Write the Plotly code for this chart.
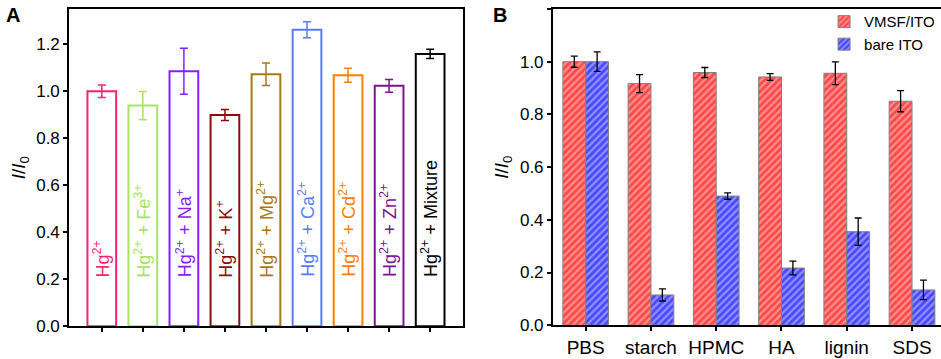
import plotly.graph_objects as go

# ---------------- Panel A data ----------------
a_names = ["Hg", "Fe", "Na", "K", "Mg", "Ca", "Cd", "Zn", "Mix"]
a_labels = ["Hg<sup>2+</sup>", "Hg<sup>2+</sup> + Fe<sup>3+</sup>", "Hg<sup>2+</sup> + Na<sup>+</sup>",
            "Hg<sup>2+</sup> + K<sup>+</sup>", "Hg<sup>2+</sup> + Mg<sup>2+</sup>", "Hg<sup>2+</sup> + Ca<sup>2+</sup>",
            "Hg<sup>2+</sup> + Cd<sup>2+</sup>", "Hg<sup>2+</sup> + Zn<sup>2+</sup>", "Hg<sup>2+</sup> + Mixture"]
a_values = [1.000, 0.939, 1.085, 0.899, 1.072, 1.262, 1.068, 1.023, 1.159]
a_errors = [0.027, 0.060, 0.098, 0.023, 0.048, 0.034, 0.030, 0.027, 0.020]
a_colors = ["#FF1F78", "#A8E462", "#8A1CFF", "#8E0B0B", "#A8790F", "#5B7BFF", "#FF8000", "#7A1490", "#000000"]

# ---------------- Panel B data ----------------
b_categories = ["PBS", "starch", "HPMC", "HA", "lignin", "SDS"]
b_vmsf = [1.000, 0.917, 0.959, 0.942, 0.956, 0.850]
b_vmsf_err = [0.021, 0.034, 0.019, 0.013, 0.043, 0.040]
b_bare = [1.000, 0.115, 0.490, 0.217, 0.355, 0.134]
b_bare_err = [0.037, 0.023, 0.012, 0.026, 0.052, 0.037]

FONT = "Arial, Liberation Sans, sans-serif"

fig = go.Figure()

for name, val, err, col in zip(a_names, a_values, a_errors, a_colors):
    fig.add_trace(go.Bar(
        x=[name], y=[val], xaxis="x", yaxis="y", offsetgroup="a",
        marker=dict(color="white", line=dict(color=col, width=2)),
        error_y=dict(type="data", array=[err], color=col, thickness=1.5, width=4),
        showlegend=False, hoverinfo="skip"))

fig.add_trace(go.Bar(
    x=b_categories, y=b_vmsf, xaxis="x2", yaxis="y2", name="VMSF/ITO", offsetgroup="r",
    marker=dict(color="#ff6060", line=dict(color="#808080", width=1),
                pattern=dict(shape="/", fgcolor="#ff0000", bgcolor="#ff9090", size=5, solidity=0.55)),
    error_y=dict(type="data", array=b_vmsf_err, color="black", thickness=1.3, width=3.5)))
fig.add_trace(go.Bar(
    x=b_categories, y=b_bare, xaxis="x2", yaxis="y2", name="bare ITO", offsetgroup="b",
    marker=dict(color="#6060ff", line=dict(color="#808080", width=1),
                pattern=dict(shape="/", fgcolor="#0000ff", bgcolor="#9090ff", size=5, solidity=0.55)),
    error_y=dict(type="data", array=b_bare_err, color="black", thickness=1.3, width=3.5)))

annotations = []
for name, lab, col in zip(a_names, a_labels, a_colors):
    annotations.append(dict(x=name, y=0.2, xref="x", yref="y", text=lab, textangle=-90,
                            showarrow=False, xanchor="center", yanchor="bottom",
                            font=dict(family=FONT, size=18, color=col)))
annotations.append(dict(x=0.004, y=0.995, xref="paper", yref="paper", text="<b>A</b>",
                        showarrow=False, xanchor="left", yanchor="top",
                        font=dict(family=FONT, size=20, color="black")))
annotations.append(dict(x=0.522, y=0.995, xref="paper", yref="paper", text="<b>B</b>",
                        showarrow=False, xanchor="left", yanchor="top",
                        font=dict(family=FONT, size=20, color="black")))

axis_common = dict(showline=True, linecolor="black", linewidth=1.5, ticks="outside",
                   ticklen=4, tickwidth=1.5, tickcolor="black", showgrid=False, zeroline=False,
                   automargin=False, tickfont=dict(family=FONT, size=17, color="black"))

fig.update_layout(
    width=941, height=359, margin=dict(l=0, r=0, t=0, b=0, autoexpand=False),
    paper_bgcolor="white", plot_bgcolor="white",
    barmode="group", bargap=0.3, bargroupgap=0,
    font=dict(family=FONT, color="black"),
    xaxis=dict(domain=[0.0733, 0.492], anchor="y", range=[-0.8, 8.8], showticklabels=False,
               mirror=True, **axis_common),
    yaxis=dict(domain=[0.091, 0.975], anchor="x", range=[0, 1.35], tickvals=[0, 0.2, 0.4, 0.6, 0.8, 1.0, 1.2],
               tickformat=".1f", mirror=True,
               title=dict(text="<i>I</i>/<i>I</i><sub>0</sub>", font=dict(family=FONT, size=19), standoff=6),
               **axis_common),
    xaxis2=dict(domain=[0.5874, 1.0], anchor="y2", range=[-0.505, 5.444], mirror=True,
                **{**axis_common, "tickfont": dict(family=FONT, size=19, color="black")}),
    yaxis2=dict(domain=[0.094, 0.975], anchor="x2", range=[0, 1.2], dtick=0.2, tickformat=".1f",
                title=dict(text="<i>I</i>/<i>I</i><sub>0</sub>", font=dict(family=FONT, size=19), standoff=6),
                **axis_common),
    legend=dict(x=0.999, xanchor="right", y=0.985, yanchor="top", bgcolor="rgba(0,0,0,0)",
                font=dict(family=FONT, size=15, color="black"), tracegroupgap=0, itemwidth=30),
    annotations=annotations,
)

fig.write_html("out.html", config={"displayModeBar": False},
               post_script="document.body.style.margin='0';")
